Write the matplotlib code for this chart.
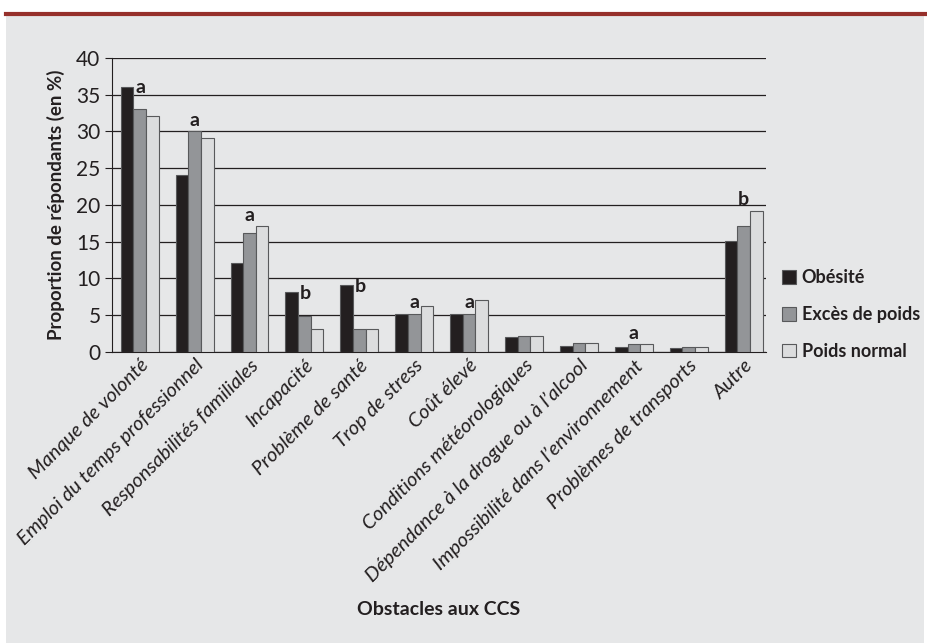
import matplotlib.pyplot as plt
import matplotlib.patches as mpatches
import numpy as np

plt.rcParams['font.family'] = ['Lato', 'DejaVu Sans']

categories = ['Manque de volonté', 'Emploi du temps professionnel',
              'Responsabilités familiales', 'Incapacité', 'Problème de santé',
              'Trop de stress', 'Coût élevé', 'Conditions météorologiques',
              'Dépendance à la drogue ou à l’alcool',
              'Impossibilité dans l’environnement', 'Problèmes de transports',
              'Autre']
obesite = [36.1, 24.1, 12.1, 8.1, 9.1, 5.1, 5.1, 2.0, 0.8, 0.6, 0.5, 15.1]
exces = [33.1, 30.0, 16.1, 4.9, 3.1, 5.2, 5.2, 2.1, 1.2, 1.0, 0.7, 17.1]
normal = [32.1, 29.1, 17.1, 3.1, 3.1, 6.2, 7.1, 2.1, 1.2, 1.1, 0.7, 19.2]
series_names = ['Obésité', 'Excès de poids', 'Poids normal']
letters = ['a', 'a', 'a', 'b', 'b', 'a', 'a', '', '', 'a', '', 'b']
# which bar the letter sits on: o = beside obesity bar, e = above excess, n = above normal
letter_anchor = ['o', 'e', 'n', 'o', 'o', 'e', 'e', '', '', 'e', '', 'n']

bg = '#e6e7e8'
colors = ['#231f20', '#939598', '#dcddde']

fig = plt.figure(figsize=(9.28, 6.43), dpi=100)
fig.patch.set_facecolor('white')
fig.patches.append(mpatches.Rectangle((0.006, 0.0), 0.99, 0.975, transform=fig.transFigure,
                                      facecolor=bg, edgecolor='none', zorder=-2))
fig.add_artist(plt.Line2D([0.006, 1.0], [0.979, 0.979], color='#96302b', lw=3,
                          transform=fig.transFigure))

ax = fig.add_axes([0.121, 0.453, 0.704, 0.457])
ax.set_facecolor(bg)

x = np.arange(len(categories))
w = 0.23
for i, (vals, c) in enumerate(zip([obesite, exces, normal], colors)):
    ax.bar(x + (i - 1) * w, vals, w, color=c, edgecolor='#58595b', linewidth=0.8,
           label=series_names[i], zorder=3)

for i, (l, a) in enumerate(zip(letters, letter_anchor)):
    if not l:
        continue
    if a == 'o':
        ax.text(x[i] + 0.02, obesite[i] - 0.2, l, ha='center', va='center',
                fontsize=14, fontweight='bold', color='#231f20')
    else:
        v = exces[i] if a == 'e' else normal[i]
        ax.text(x[i], v + 1.5, l, ha='center', va='center',
                fontsize=14, fontweight='bold', color='#231f20')

ax.set_ylim(0, 40)
ax.set_xlim(-0.5, 11.4)
ax.set_yticks(range(0, 41, 5))
ax.tick_params(axis='y', labelsize=15, length=5, color='#231f20', labelcolor='#231f20')
ax.tick_params(axis='x', length=0, labelsize=14.5, labelcolor='#231f20')
ax.grid(axis='y', color='#231f20', lw=0.9, zorder=0)
for s in ['top', 'right']:
    ax.spines[s].set_visible(False)
ax.spines['left'].set_color('#231f20')
ax.spines['bottom'].set_color('#231f20')
ax.set_xticks(x)
ax.set_xticklabels(categories, rotation=45, ha='right', rotation_mode='anchor',
                   style='italic')
ax.set_ylabel('Proportion de répondants (en %)', fontsize=13.5, fontweight='bold',
              color='#231f20', labelpad=8)
ax.set_xlabel('Obstacles aux CCS', fontsize=14, fontweight='bold', color='#231f20')
ax.xaxis.set_label_coords(0.5, -0.85)

leg = ax.legend(loc='center left', bbox_to_anchor=(1.0, 0.127), frameon=False,
                fontsize=13, handlelength=0.8, handleheight=0.8, handletextpad=0.3,
                labelspacing=1.1, borderaxespad=0.5)
for t in leg.get_texts():
    t.set_fontweight('bold')
    t.set_color('#231f20')

fig.savefig('out.png', dpi=100, facecolor=fig.get_facecolor())
